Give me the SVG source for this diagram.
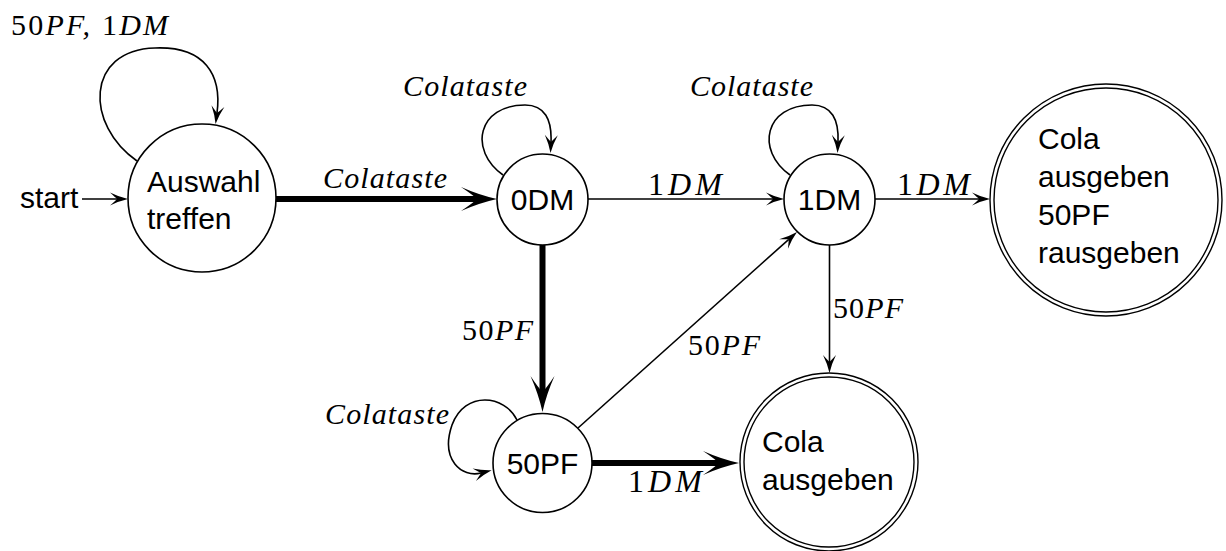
<svg xmlns="http://www.w3.org/2000/svg" width="1226" height="551" viewBox="0 0 1226 551">
<style>
.node{fill:#fff;stroke:#000;stroke-width:1.6}
.acc{fill:none;stroke:#000;stroke-width:1.4}
.t{font-family:"Liberation Sans",Arial,sans-serif;font-size:30px;fill:#000}
.lbl{font-family:"Liberation Serif","Times New Roman",serif;font-size:30px;font-style:italic;fill:#000}
.big{font-size:32px}
.up{font-style:normal}
.e{fill:none;stroke:#000;stroke-width:1.6}
.thick{fill:none;stroke:#000;stroke-width:6}
</style>
<defs>
<marker id="ah" markerUnits="userSpaceOnUse" markerWidth="40" markerHeight="40" refX="0" refY="0" orient="auto" overflow="visible">
<path d="M11 0 Q2 -2 -7 -6.5 Q-2 -2 0 0 Q-2 2 -7 6.5 Q2 2 11 0 Z" fill="#000"/>
</marker>
<marker id="ahT" markerUnits="userSpaceOnUse" markerWidth="60" markerHeight="60" refX="0" refY="0" orient="auto" overflow="visible">
<path d="M20 0 Q2 -4 -16 -12 Q-4 -4 0 0 Q-4 4 -16 12 Q2 4 20 0 Z" fill="#000"/>
</marker>
</defs>

<g id="connectors">
<path class="e" d="M82 199 L117 199" marker-end="url(#ah)"/>
<path class="e" d="M137 161 C85 125 85 50 155 48 C205 46 222 75 217 113" marker-end="url(#ah)"/>
<path class="thick" d="M276 199 L477 199" marker-end="url(#ahT)"/>
<path class="e" d="M503 175 C468 150 478 105 525 105 C545 105 552 120 551 142" marker-end="url(#ah)"/>
<path class="e" d="M588 199 L773 199" marker-end="url(#ah)"/>
<path class="e" d="M790 175 C755 150 765 105 812 105 C832 105 839 120 838 142" marker-end="url(#ah)"/>
<path class="e" d="M875 199 L979 199" marker-end="url(#ah)"/>
<path class="thick" d="M542.5 245 L542.5 392" marker-end="url(#ahT)"/>
<path class="e" d="M517 420 C505 395 465 390 452 425 C440 460 462 478 481 473" marker-end="url(#ah)"/>
<path class="e" d="M578 428 L788.8 239.3" marker-end="url(#ah)"/>
<path class="thick" d="M592 463 L719 463" marker-end="url(#ahT)"/>
<path class="e" d="M829.5 245 L829.5 362" marker-end="url(#ah)"/>
</g>

<g id="labels">
<text class="t" x="20" y="208">start</text>
<text class="lbl" x="11" y="35" textLength="157" lengthAdjust="spacing"><tspan class="up">50</tspan>PF, <tspan class="up">1</tspan>DM</text>
<text class="lbl" x="323" y="188" textLength="124" lengthAdjust="spacing">Colataste</text>
<text class="lbl" x="403" y="96" textLength="124" lengthAdjust="spacing">Colataste</text>
<text class="lbl" x="690" y="96" textLength="123" lengthAdjust="spacing">Colataste</text>
<text class="lbl" x="325" y="424" textLength="124" lengthAdjust="spacing">Colataste</text>
<text class="lbl big" x="648" y="195" textLength="74" lengthAdjust="spacing"><tspan class="up">1</tspan>DM</text>
<text class="lbl big" x="897" y="195" textLength="73" lengthAdjust="spacing"><tspan class="up">1</tspan>DM</text>
<text class="lbl" x="462" y="340" textLength="71" lengthAdjust="spacing"><tspan class="up">50</tspan>PF</text>
<text class="lbl" x="688" y="355" textLength="72" lengthAdjust="spacing"><tspan class="up">50</tspan>PF</text>
<text class="lbl" x="833" y="318" textLength="70" lengthAdjust="spacing"><tspan class="up">50</tspan>PF</text>
<text class="lbl big" x="628" y="492" textLength="74" lengthAdjust="spacing"><tspan class="up">1</tspan>DM</text>
</g>

<g id="n-auswahl">
<circle class="node" cx="202" cy="198" r="74"/>
<text class="t" x="147" y="192">Auswahl</text>
<text class="t" x="147" y="229">treffen</text>
</g>
<g id="n-0dm">
<circle class="node" cx="542.5" cy="199.5" r="45.5"/>
<text class="t" x="542.5" y="210" text-anchor="middle">0DM</text>
</g>
<g id="n-1dm">
<circle class="node" cx="829.5" cy="199.5" r="45.5"/>
<text class="t" x="829.5" y="210" text-anchor="middle">1DM</text>
</g>
<g id="n-50pf">
<circle class="node" cx="542.5" cy="463" r="49.5"/>
<text class="t" x="542.5" y="474" text-anchor="middle">50PF</text>
</g>
<g id="n-cola50">
<circle class="acc" cx="1106" cy="200" r="116"/>
<circle class="acc" cx="1106" cy="200" r="112"/>
<text class="t" x="1038" y="149">Cola</text>
<text class="t" x="1038" y="187">ausgeben</text>
<text class="t" x="1038" y="225">50PF</text>
<text class="t" x="1038" y="263">rausgeben</text>
</g>
<g id="n-cola">
<circle class="acc" cx="829" cy="462" r="89"/>
<circle class="acc" cx="829" cy="462" r="85"/>
<text class="t" x="762" y="452">Cola</text>
<text class="t" x="762" y="490">ausgeben</text>
</g>
</svg>
